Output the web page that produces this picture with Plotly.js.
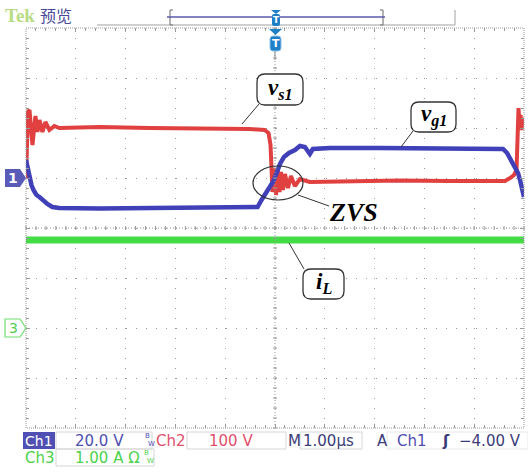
<!DOCTYPE html>
<html><head><meta charset="utf-8">
<script src="https://cdn.plot.ly/plotly-3.0.1.min.js"></script>
<style>html,body{margin:0;padding:0;background:#fff}#c{width:528px;height:472px}</style>
</head><body><div id="c"></div>
<script>
// ---- data (time in µs, values in physical units) ----
const t_vs1 = [-5.00,-4.98,-4.96,-4.93,-4.90,-4.87,-4.84,-4.81,-4.77,-4.73,-4.67,-4.61,-4.53,-4.43,-4.33,-3.52,-2.52,-1.51,-0.51,-0.21,-0.13,-0.09,-0.07,-0.05,-0.03,-0.01,0.02,0.06,0.09,0.12,0.16,0.20,0.26,0.32,0.40,0.50,0.70,1.50,2.51,3.51,4.62,4.72,4.80,4.85,4.87,4.89,4.91,4.93,4.95,4.97,5.00];
const vs1_V = [0,56,132,136,106,66,96,124,92,116,92,112,96,104,100,102,100,100,98,96,90,66,16,-28,-14,20,-34,16,-28,12,-24,8,-20,4,-16,-2,-8,-6,-5,-6,-6,0,6,16,132,140,106,126,96,120,106];
const t_vg1 = [-5.00,-4.97,-4.93,-4.89,-4.85,-4.79,-4.73,-4.65,-4.57,-4.47,-4.33,-3.52,-2.52,-1.51,-0.51,-0.35,-0.27,-0.19,-0.11,-0.03,0.04,0.10,0.18,0.28,0.40,0.50,0.60,0.70,0.76,1.10,2.10,3.11,4.11,4.58,4.66,4.74,4.82,4.88,4.92,4.96,5.00];
const vg1_V = [7.2,4,0.8,-2.8,-4.8,-6.8,-7.6,-9.2,-10.4,-11.6,-12,-12.2,-12,-12.2,-12,-11.6,-8.8,-6,-4,-1.2,2.4,5.6,8.4,10,11.2,12.8,12.4,9.6,11.6,12,12,11.8,12,11.6,10,7.2,4.4,2,-0.8,-4.8,-7.6];
const t_iL = [-5,-4,-3,-2,-1,0,1,2,3,4,5];
const iL_A = [1.76,1.76,1.77,1.76,1.75,1.76,1.77,1.76,1.76,1.75,1.76];

// channel settings (scale per division, ground offset in divisions)
const ch1 = {scale:20, offset:1};    // vg1, 20.0 V/div
const ch2 = {scale:100, offset:1};   // vs1, 100 V/div
const ch3 = {scale:1, offset:-2};    // iL, 1.00 A/div
const toDiv = (arr, ch) => arr.map(v => ch.offset + v/ch.scale);

const BLUE='#4040b8', RED='#e04040', GREEN='#44dc44';

const traces = [
  {x:t_iL, y:toDiv(iL_A,ch3), mode:'lines', line:{color:GREEN,width:7}, hoverinfo:'skip'},
  {x:t_vs1, y:toDiv(vs1_V,ch2), mode:'lines', line:{color:RED,width:4}, hoverinfo:'skip'},
  {x:t_vg1, y:toDiv(vg1_V,ch1), mode:'lines', line:{color:BLUE,width:4.5}, hoverinfo:'skip'}
];

// pixel -> paper helpers (plot area x 26..524, y 28..428)
const L=26, T=28, W=498, H=400;
const X = px => (px-L)/W, Y = py => (T+H-py)/H;
const shapes = [], ann = [];
function line(x0,y0,x1,y1,color,width,dash){shapes.push({type:'line',xref:'paper',yref:'paper',x0:X(x0),y0:Y(y0),x1:X(x1),y1:Y(y1),line:{color:color,width:width||1,dash:dash||'solid'}});}
function rect(x0,y0,x1,y1,fill,color,width){shapes.push({type:'rect',xref:'paper',yref:'paper',x0:X(x0),y0:Y(y0),x1:X(x1),y1:Y(y1),fillcolor:fill||'rgba(0,0,0,0)',line:{color:color||'rgba(0,0,0,0)',width:width||0}});}
function path(pts,fill,color,width){
  let d='';
  pts.forEach(p=>{d+=p[0];for(let i=1;i<p.length;i+=2){d+=X(p[i])+','+Y(p[i+1])+' ';}});
  shapes.push({type:'path',xref:'paper',yref:'paper',path:d+'Z',fillcolor:fill||'rgba(0,0,0,0)',line:{color:color||'rgba(0,0,0,0)',width:width||0}});
}
function rbox(x0,y0,x1,y1,r,fill,color,width){
  path([['M',x0+r,y0],['L',x1-r,y0],['Q',x1,y0,x1,y0+r],['L',x1,y1-r],['Q',x1,y1,x1-r,y1],['L',x0+r,y1],['Q',x0,y1,x0,y1-r],['L',x0,y0+r],['Q',x0,y0,x0+r,y0]],fill,color,width);
}
function txt(x,y,s,size,color,family,anchor){ann.push({xref:'paper',yref:'paper',x:X(x),y:Y(y),text:s,showarrow:false,xanchor:anchor||'left',yanchor:'middle',borderpad:0,font:{size:size,color:color,family:family||'DejaVu Sans'}});}

// ---- graticule center lines and their ticks ----
line(275,28,275,428,'#999',1,'1px,2px');
line(26,228,524,228,'#999',1,'1px,2px');
for(let k=-25;k<=25;k++){const px=275+k*9.96; line(px,226,px,230,'#999',1);}
for(let k=-20;k<=20;k++){const py=228+k*10; line(273,py,277,py,'#999',1);}
rect(26,28,524,428,null,'#9a9a9a',1);
shapes[shapes.length-1].line.dash='1px,1px';

// ---- top bar ----
txt(4,15,'<b>Tek</b>',19,'#b8dc84','Liberation Serif');
txt(39,15,'预览',16,'#4a4a96','Noto Sans CJK SC');
line(97,25,455,25,'#c0c0c0',1.5);
line(455,10,455,25,'#c0c0c0',1.5);
line(170,10,170,25,'#808080',1.2); line(170,10,173,10,'#808080',1.2); line(170,25,173,25,'#808080',1.2);
line(383,10,383,25,'#808080',1.2); line(380,10,383,10,'#808080',1.2); line(380,25,383,25,'#808080',1.2);
line(167,17,385,17,'#5a5aaa',1.5);
path([['M',271,10],['L',281,10],['L',276,14]],'#1f80c8');
rbox(272,14,280,26,2,'#1f80c8');
txt(276,20,'<b>T</b>',9,'#fff','DejaVu Sans','center');
line(275,50,275,60,'#aaa',1.5);
path([['M',269,29],['L',282,29],['L',275.5,35]],'#1f80c8');
rbox(270,36,281,51,3,'#1f80c8','#8cc0e8',1);
txt(275.5,43.5,'<b>T</b>',11,'#fff','DejaVu Sans','center');

// ---- channel markers ----
path([['M',5,169],['L',20,169],['L',26,178],['L',20,187],['L',5,187]],'#5a5ab8');
txt(12.5,178,'<b>1</b>',14,'#fff','DejaVu Sans','center');
path([['M',5,319],['L',20,319],['L',26,328],['L',20,337],['L',5,337]],'#fff','#6ede6e',1.2);
txt(13,328,'3',14,'#55cc55','DejaVu Sans','center');

// ---- callouts ----
const SERIF='Liberation Serif';
line(259,104,242,124,'#333',1);
rbox(257,74,303,105,8,'#fff','#333',1.3);
txt(280,89,'<b><i>v</i></b><sub><b><i>s1</i></b></sub>',23,'#000',SERIF,'center');
line(413,131,401,147,'#333',1);
rbox(411,102,456,132,8,'#fff','#333',1.3);
txt(434,116,'<b><i>v</i></b><sub><b><i>g1</i></b></sub>',23,'#000',SERIF,'center');
line(304,269,289,243,'#333',1);
rbox(303,269,344,299,8,'#fff','#333',1.3);
txt(323.5,283,'<b><i>i</i></b><sub><b><i>L</i></b></sub>',23,'#000',SERIF,'center');
shapes.push({type:'circle',xref:'paper',yref:'paper',x0:X(253),y0:Y(200),x1:X(303),y1:Y(166),line:{color:'#333',width:1.2}});
line(298,195,329,206,'#333',1);
txt(353,212,'<b><i>ZVS</i></b>',26,'#000',SERIF,'center');

// ---- status bar ----
const SB='#4e4eb0', SR='#e0506e', SG='#4cd24c', SD='#3c3c78';
rect(56,432,152,449,null,'#d6d6d6',1);
rect(187,432,286,449,null,'#d6d6d6',1);
rect(300,432,362,449,null,'#d6d6d6',1);
rect(387,432,528,449,null,'#e6e6e6',1);
rect(56,449,154,466,null,'#d6d6d6',1);
rect(23,432,55,449,'#5050b4');
txt(24,440.5,'Ch1',14,'#fff');
txt(74,440.5,'20.0 V',15,SB);
txt(144,436,'B',7,SB); txt(147,444,'W',7,SB);
txt(155,440.5,'Ch2',15,SR);
txt(208,440.5,'100 V',15,SR);
txt(287,440.5,'M',15,SD);
txt(302,440.5,'1.00µs',15,SD);
txt(376,440.5,'A',15,SD);
txt(396,440.5,'Ch1',15,SB);
txt(441,440.5,'<b>ʃ</b>',15,SD);
txt(458,440.5,'−4.00 V',15,SD);
txt(24,457.5,'Ch3',15,SG);
txt(74,457.5,'1.00 A Ω',15,SG);
txt(143,453,'B',7,SG); txt(146,461,'W',7,SG);

const ax = {showticklabels:false, zeroline:false, showline:false, fixedrange:true,
  showgrid:true, gridcolor:'#9a9a9a', gridwidth:1, griddash:'1px,9px',
  ticks:'inside', ticklen:4, tickcolor:'#9a9a9a', mirror:'allticks', dtick:1,
  minor:{dtick:0.2, ticks:'inside', ticklen:3, tickcolor:'#9a9a9a', showgrid:false}};
const layout = {
  width:528, height:472, margin:{l:26,r:4,t:28,b:44},
  paper_bgcolor:'#fff', plot_bgcolor:'#fff', showlegend:false,
  xaxis:Object.assign({range:[-5,5], tick0:-5}, ax),
  yaxis:Object.assign({range:[-4,4], tick0:-4}, ax),
  shapes:shapes, annotations:ann
};
Plotly.newPlot('c', traces, layout, {staticPlot:true, displayModeBar:false});
</script></body></html>
